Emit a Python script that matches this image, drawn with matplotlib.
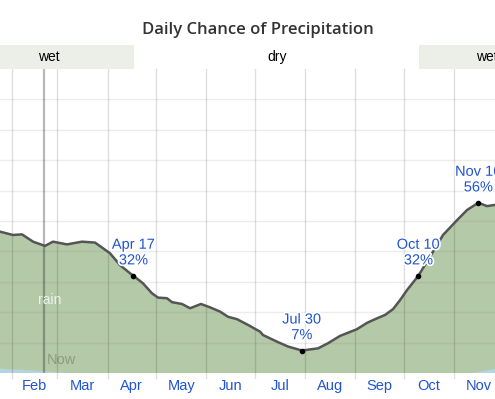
import matplotlib
matplotlib.use('Agg')
import matplotlib.pyplot as plt
import matplotlib.patheffects as pe
import numpy as np

# day of year -> daily chance of rain (%)
days = [24.6, 32.6, 38.2, 45, 52.4, 57.3, 66, 75.2, 83.3, 92.5, 98.7, 104.9,
        107, 112.9, 118.5, 122.2, 127.7, 130.8, 137, 142, 148.7, 154.3, 160.5,
        165.4, 171, 177.8, 185.2, 187, 195.7, 202.5, 211, 221, 227.2, 234.6,
        245, 251.3, 256.2, 262.4, 267.3, 271.7, 276, 283, 290.2, 298.2, 306.9,
        313, 320, 325.4, 330.3]
rain = [46.5, 45.4, 45.6, 43.2, 41.8, 43.2, 42.3, 43.2, 42.9, 39.4, 35.5, 32.8,
        32.0, 29.5, 26.2, 24.8, 24.6, 23.3, 22.7, 21.3, 22.7, 21.6, 20.2,
        18.5, 17.7, 15.8, 13.6, 12.5, 10.3, 8.7, 7.4, 8.1, 9.8, 12.2,
        14.4, 16.5, 17.7, 19.1, 21.0, 24.0, 27.3, 32.0, 38.3, 45.4, 50.3,
        53.6, 56.0, 54.9, 55.3]

# small mixed/snow sliver at the bottom
snow_days = [24.6, 32, 45, 55, 66, 316, 322, 330.3]
snow = [1.5, 1.2, 0.8, 0.4, 0.0, 0.0, 0.5, 1.4]

highlights = [(107, 32, 'Apr 17'), (211, 7.4, 'Jul 30'),
              (283, 32, 'Oct 10'), (320, 56, 'Nov 16')]

month_starts = [32, 60, 91, 121, 152, 182, 213, 244, 274, 305]
month_names = ['Feb', 'Mar', 'Apr', 'May', 'Jun', 'Jul', 'Aug', 'Sep', 'Oct', 'Nov']
month_lens = [28, 31, 30, 31, 30, 31, 31, 30, 31, 30]

wet_end = 107.4
wet_start = 283.4
now_day = 51.8
x0, x1 = 24.6, 330.3

blue = '#2054d0'
plt.rcParams['font.family'] = ['Liberation Sans', 'DejaVu Sans']

fig = plt.figure(figsize=(4.95, 3.99), dpi=100)
ax = fig.add_axes([0, 26 / 399, 1, 304 / 399])

ax.fill_between(snow_days, 0, snow, color='#b4d4df', zorder=2, lw=0)
snow_x = np.array(snow_days)
ax.fill_between(days, 0, rain, color='#b4c9a7', zorder=1, lw=0)
ax.plot(days, rain, color='#555555', lw=1.8, zorder=4)

for yv in range(10, 100, 10):
    ax.axhline(yv, color=(0.5, 0.5, 0.5, 0.15), lw=1, zorder=3)
for m in month_starts:
    ax.axvline(m, color=(0, 0, 0, 0.13), lw=1, zorder=3, ymin=-0.017, clip_on=False)
ax.axvline(now_day, color=(0, 0, 0, 0.28), lw=1.6, zorder=3)

ax.text(now_day + 11, 4.2, 'Now', color=(0, 0, 0, 0.22), fontsize=10.5, ha='center', va='center', zorder=5)
ax.text(55, 24, 'rain', color='#eef3ea', fontsize=10, ha='center', va='center', zorder=5)

for d, v, lab in highlights:
    ax.plot(d, v, 'o', color='black', ms=3, zorder=6)
    ax.annotate(f'{lab}\n{round(v)}%', (d, v), xytext=(0, 6), textcoords='offset points',
                ha='center', va='bottom', color=blue, fontsize=10.5, linespacing=1.15,
                zorder=7, path_effects=[pe.withStroke(linewidth=2.5, foreground='white')])

ax.set_xlim(x0, x1)
ax.set_ylim(0, 100)
ax.set_yticks([])
ax.set_xticks([m + n / 2 for m, n in zip(month_starts, month_lens)])
ax.set_xticklabels(month_names, color=blue, fontsize=10.5)
ax.tick_params(axis='x', length=0, pad=4)
for s in ax.spines.values():
    s.set_visible(False)

# wet / dry season band
band = fig.add_axes([0, 330 / 399, 1, 24 / 399])
band.set_xlim(x0, x1)
band.set_ylim(0, 1)
band.axvspan(x0 - 50, wet_end, color='#ebefe8', lw=0)
band.axvspan(wet_start, x1 + 50, color='#ebefe8', lw=0)
band.text(55, 0.5, 'wet', ha='center', va='center', fontsize=10)
band.text(196, 0.5, 'dry', ha='center', va='center', fontsize=10)
band.text(325.5, 0.5, 'wet', ha='center', va='center', fontsize=10)
band.axis('off')

fig.text(0.521, 1 - 30 / 399, 'Daily Chance of Precipitation', ha='center', va='center',
         fontsize=12, color='#333333', fontweight='semibold', family=['Open Sans', 'DejaVu Sans'])

fig.savefig('out.png', dpi=100)
